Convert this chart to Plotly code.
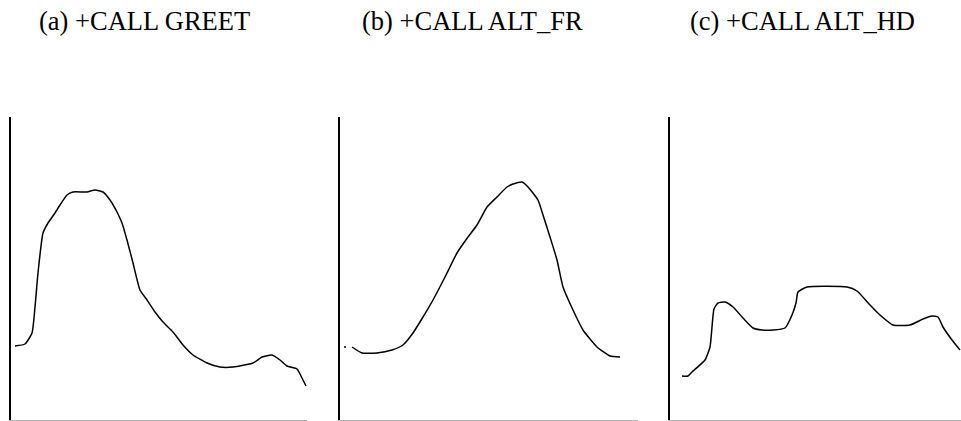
import plotly.graph_objects as go

# Panel titles
titles = ["(a) +CALL GREET", "(b) +CALL ALT_FR", "(c) +CALL ALT_HD"]

# (a) +CALL GREET
xa = [4, 14, 21, 24, 27, 32, 37, 44, 49, 56, 62, 76, 84, 92, 99, 106, 111, 116, 122, 129,
      136, 144, 152, 162, 172, 182, 196, 209, 222, 242, 251, 261, 269, 276, 286, 291, 295]
ya = [74, 76, 87, 113, 147, 187, 197, 207, 215, 225, 228, 228, 230, 228, 220, 208, 197, 180, 157, 130,
      120, 108, 98, 88, 75, 65, 57, 53, 53, 57, 63, 65, 60, 54, 51, 42, 34]

# (b) +CALL ALT_FR
xb = [12, 22, 37, 52, 63, 73, 83, 93, 105, 117, 128, 137, 147, 157, 167, 173, 182, 188,
      198, 203, 210, 217, 223, 233, 243, 257, 270, 280]
yb = [73, 67, 67, 70, 75, 87, 103, 120, 143, 167, 183, 195, 213, 223, 233, 236, 238, 233,
      220, 205, 183, 160, 133, 110, 90, 73, 64, 63]
xb_dot = [5]
yb_dot = [73]

# (c) +CALL ALT_HD
xc = [12, 18, 22, 35, 40, 44, 48, 55, 63, 73, 83, 92, 103, 115, 122, 126, 128, 137, 177, 187,
      200, 210, 223, 240, 253, 262, 268, 273, 282, 290]
yc = [44, 44, 48, 60, 73, 111, 117, 118, 113, 102, 92, 90, 90, 92, 105, 117, 128, 133, 133, 129,
      115, 105, 95, 95, 101, 104, 103, 93, 80, 70]

W, H = 961, 421
line_style = dict(color="black", width=1.5, shape="spline", smoothing=0.5)

fig = go.Figure()
fig.add_trace(go.Scatter(x=xa, y=ya, mode="lines", line=line_style, xaxis="x", yaxis="y"))
fig.add_trace(go.Scatter(x=xb, y=yb, mode="lines", line=line_style, xaxis="x2", yaxis="y2"))
fig.add_trace(go.Scatter(x=xb_dot, y=yb_dot, mode="markers", marker=dict(color="black", size=2),
                         xaxis="x2", yaxis="y2"))
fig.add_trace(go.Scatter(x=xc, y=yc, mode="lines", line=line_style, xaxis="x3", yaxis="y3"))

ydom = [(H - 420) / H, (H - 117) / H]
xdoms = [[11 / W, 307 / W], [340 / W, 638 / W], [670 / W, 1.0]]
xranges = [[0, 296], [0, 298], [0, 291]]

layout = dict(
    width=W, height=H,
    margin=dict(l=0, r=0, t=0, b=0),
    paper_bgcolor="white", plot_bgcolor="white",
    showlegend=False,
    hovermode=False,
)
for i in range(3):
    sfx = "" if i == 0 else str(i + 1)
    layout["xaxis" + sfx] = dict(domain=xdoms[i], range=xranges[i], showgrid=False, zeroline=False,
                                 showticklabels=False, ticks="", showline=True,
                                 linecolor="#b0b0b0", linewidth=1,
                                 anchor="y" + sfx)
    layout["yaxis" + sfx] = dict(domain=ydom, range=[0, 303], showgrid=False, zeroline=False,
                                 showticklabels=False, ticks="", showline=True,
                                 linecolor="black", linewidth=2,
                                 anchor="x" + sfx)
fig.update_layout(**layout)

title_x = [37, 360, 688]
for t, tx in zip(titles, title_x):
    fig.add_annotation(text=t, x=tx / W, y=(H - 21) / H, xref="paper", yref="paper",
                       xanchor="left", yanchor="middle", showarrow=False,
                       font=dict(family="Liberation Serif", size=26.5, color="black"))

fig.write_html("out.html", config={"displayModeBar": False},
               post_script="document.body.style.margin='0px';")
